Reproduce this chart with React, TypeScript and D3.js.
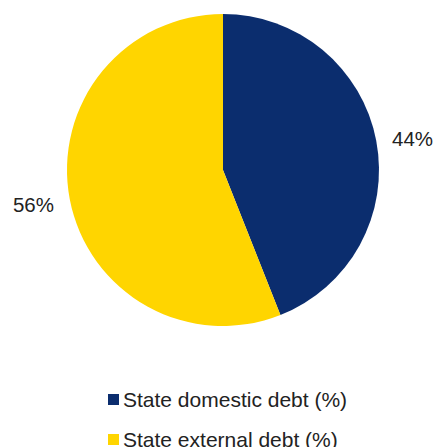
import React from "react";
import * as d3 from "d3";

const categories = ["State domestic debt (%)", "State external debt (%)"];
const values = [44, 56];
const labels = ["44%", "56%"];
const colors = ["#0B2D6E", "#FFD500"];

export default function App() {
  const width = 436;
  const height = 447;
  const cx = 223;
  const cy = 170;
  const r = 156;
  const labelRx = 193;
  const labelRy = 174;

  const pie = d3.pie<number>().sort(null).startAngle(0).endAngle(2 * Math.PI);
  const arcs = pie(values);
  const arcGen = d3.arc<d3.PieArcDatum<number>>().innerRadius(0).outerRadius(r);

  const fontFamily = "'Liberation Sans', Arial, sans-serif";

  return (
    <svg
      width={width}
      height={height}
      style={{ position: "absolute", left: 0, top: 0, background: "#fff" }}
    >
      <g transform={`translate(${cx},${cy})`}>
        {arcs.map((a, i) => (
          <path key={i} d={arcGen(a) || ""} fill={colors[i]} />
        ))}
        {arcs.map((a, i) => {
          const mid = (a.startAngle + a.endAngle) / 2;
          const x = Math.sin(mid) * labelRx;
          const y = -Math.cos(mid) * labelRy + 1.5;
          return (
            <text
              key={i}
              x={x}
              y={y}
              textAnchor="middle"
              dominantBaseline="central"
              fontFamily={fontFamily}
              fontSize={20.5}
              fill="#222"
            >
              {labels[i]}
            </text>
          );
        })}
      </g>
      {categories.map((c, i) => (
        <g key={c} transform={`translate(108,${394 + i * 40})`}>
          <rect width={11} height={11} fill={colors[i]} />
          <text
            x={15}
            y={12.5}
            fontFamily={fontFamily}
            fontSize={21}
            fill="#222"
          >
            {c}
          </text>
        </g>
      ))}
    </svg>
  );
}
